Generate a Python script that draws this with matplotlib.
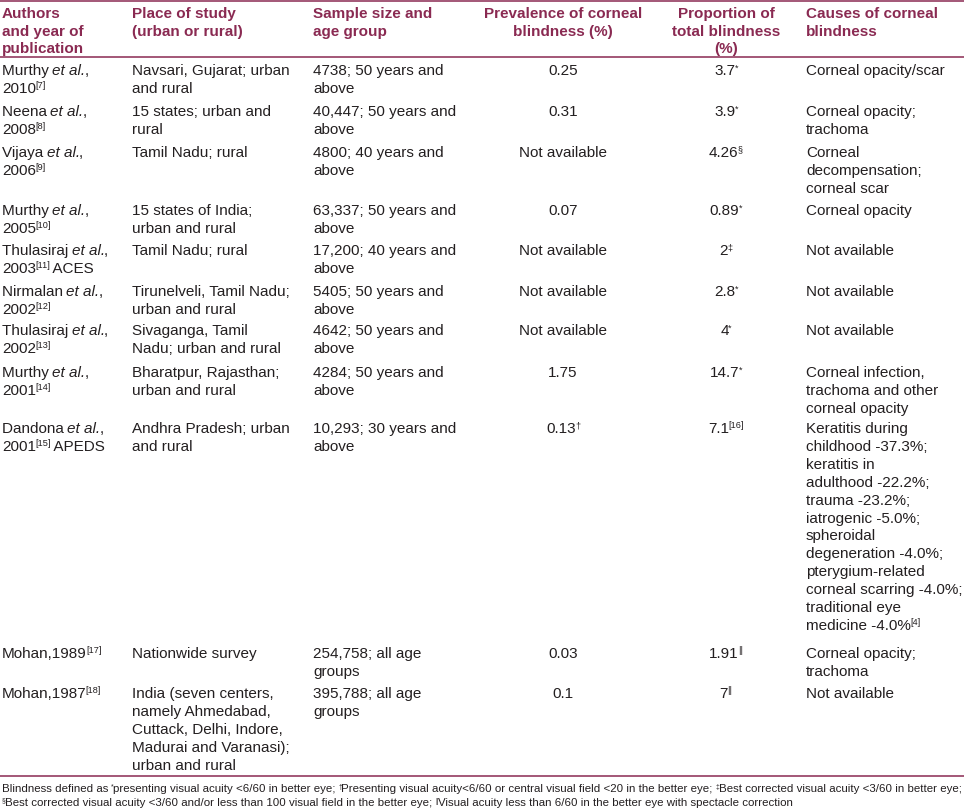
import re
import matplotlib
matplotlib.use("Agg")
import matplotlib.pyplot as plt
from matplotlib.font_manager import FontProperties

FONT = "Liberation Sans"
plt.rcParams["font.family"] = [FONT, "DejaVu Sans"]

# ---------------- data ----------------
headers = [
    "Authors\nand year of\npublication",
    "Place of study\n(urban or rural)",
    "Sample size and\nage group",
    "Prevalence of corneal\nblindness (%)",
    "Proportion of\ntotal blindness\n(%)",
    "Causes of corneal\nblindness",
]

authors = [
    "Murthy {i:et al.},\n2010{s:[7]}",
    "Neena {i:et al.},\n2008{s:[8]}",
    "Vijaya {i:et al.},\n2006{s:[9]}",
    "Murthy {i:et al.},\n2005{s:[10]}",
    "Thulasiraj {i:et al.},\n2003{s:[11]} ACES",
    "Nirmalan {i:et al.},\n2002{s:[12]}",
    "Thulasiraj {i:et al.},\n2002{s:[13]}",
    "Murthy {i:et al.},\n2001{s:[14]}",
    "Dandona {i:et al.},\n2001{s:[15]} APEDS",
    "Mohan,1989{s:[17]}",
    "Mohan,1987{s:[18]}",
]

places = [
    "Navsari, Gujarat; urban\nand rural",
    "15 states; urban and\nrural",
    "Tamil Nadu; rural",
    "15 states of India;\nurban and rural",
    "Tamil Nadu; rural",
    "Tirunelveli, Tamil Nadu;\nurban and rural",
    "Sivaganga, Tamil\nNadu; urban and rural",
    "Bharatpur, Rajasthan;\nurban and rural",
    "Andhra Pradesh; urban\nand rural",
    "Nationwide survey",
    "India (seven centers,\nnamely Ahmedabad,\nCuttack, Delhi, Indore,\nMadurai and Varanasi);\nurban and rural",
]

samples = [
    "4738; 50 years and\nabove",
    "40,447; 50 years and\nabove",
    "4800; 40 years and\nabove",
    "63,337; 50 years and\nabove",
    "17,200; 40 years and\nabove",
    "5405; 50 years and\nabove",
    "4642; 50 years and\nabove",
    "4284; 50 years and\nabove",
    "10,293; 30 years and\nabove",
    "254,758; all age\ngroups",
    "395,788; all age\ngroups",
]

prevalence = ["0.25", "0.31", "Not available", "0.07", "Not available",
              "Not available", "Not available", "1.75", "0.13{s:†}", "0.03", "0.1"]

proportion = ["3.7{s:*}", "3.9{s:*}", "4.26{s:§}", "0.89{s:*}", "2{s:‡}", "2.8{s:*}",
              "4{s:*}", "14.7{s:*}", "7.1{s:[16]}", "1.91{s:||}", "7{s:||}"]

causes = [
    "Corneal opacity/scar",
    "Corneal opacity;\ntrachoma",
    "Corneal\ndecompensation;\ncorneal scar",
    "Corneal opacity",
    "Not available",
    "Not available",
    "Not available",
    "Corneal infection,\ntrachoma and other\ncorneal opacity",
    "Keratitis during\nchildhood -37.3%;\nkeratitis in\nadulthood -22.2%;\ntrauma -23.2%;\n"
    "iatrogenic -5.0%;\nspheroidal\ndegeneration -4.0%;\npterygium-related\n"
    "corneal scarring -4.0%;\ntraditional eye\nmedicine -4.0%{s:[4]}",
    "Corneal opacity;\ntrachoma",
    "Not available",
]

footnotes = [
    "Blindness defined as {s:*}presenting visual acuity <6/60 in better eye; "
    "{s:†}Presenting visual acuity<6/60 or central visual field <20 in the better eye; "
    "{s:‡}Best corrected visual acuity <3/60 in better eye;",
    "{s:§}Best corrected visual acuity <3/60 and/or less than 100 visual field in the better eye; "
    "{s:||}Visual acuity less than 6/60 in the better eye with spectacle correction",
]

# ---------------- layout / style ----------------
W, H, DPI = 964, 811, 100
MAROON = "#8a2a52"
INK = "#231f20"
BODY_PX = 15.2
PT = 72.0 / DPI
SUP_SCALE = 0.6
SUP_RAISE = 0.30
GAP_EM = -0.05

col_anchor = [(2, "left"), (132, "left"), (313, "left"),
              (563, "center"), (726, "center"), (806, "left")]
header_base = 18
header_ls = 17.6
row_base = [75, 116, 157, 215, 255, 296, 335, 377, 433, 658, 698]
body_ls = 17.9
rule_y = [1, 57, 776]
foot_base = [792, 806]
foot_right = 957

fig = plt.figure(figsize=(W / DPI, H / DPI), dpi=DPI)
ax = fig.add_axes([0, 0, 1, 1])
ax.set_xlim(0, W)
ax.set_ylim(H, 0)
ax.axis("off")
renderer = fig.canvas.get_renderer()


def parse(markup):
    parts, pos = [], 0
    for m in re.finditer(r"\{([is]):(.*?)\}", markup):
        if m.start() > pos:
            parts.append(("n", markup[pos:m.start()]))
        parts.append((m.group(1), m.group(2)))
        pos = m.end()
    if pos < len(markup):
        parts.append(("n", markup[pos:]))
    return parts


def segments(markup, px, bold):
    out = []
    for kind, s in parse(markup):
        spx = px * SUP_SCALE if kind == "s" else px
        prop = FontProperties(family=FONT, size=spx * PT,
                              style="italic" if kind == "i" else "normal",
                              weight="bold" if bold else "normal")
        dy = -px * SUP_RAISE if kind == "s" else 0.0
        w, _, _ = renderer.get_text_width_height_descent(s, prop, ismath=False)
        out.append((s, prop, dy, w))
    return out


def layout(markup, px, bold=False):
    segs = segments(markup, px, bold)
    pos, cur = [], 0.0
    for i, (s, prop, dy, w) in enumerate(segs):
        if i > 0:
            cur += GAP_EM * px
        pos.append(cur)
        cur += w
    return segs, pos, cur


def put(x, y, markup, px, color, ha="left", bold=False):
    segs, pos, total = layout(markup, px, bold)
    x0 = x - total / 2 if ha == "center" else x
    for (s, prop, dy, w), p in zip(segs, pos):
        ax.text(x0 + p, y + dy, s, fontproperties=prop, color=color,
                ha="left", va="baseline")


# header
for (x, ha), txt in zip(col_anchor, headers):
    for k, line in enumerate(txt.split("\n")):
        put(x, header_base + k * header_ls, line, BODY_PX, MAROON, ha=ha, bold=True)

# body
columns = [authors, places, samples, prevalence, proportion, causes]
for (x, ha), col in zip(col_anchor, columns):
    for r, cell in enumerate(col):
        for k, line in enumerate(cell.split("\n")):
            put(x, row_base[r] + k * body_ls, line, BODY_PX, INK, ha=ha)

# rules
for y in rule_y:
    ax.plot([0, W], [y, y], color=MAROON, lw=1.1, solid_capstyle="butt")

# footnotes, fitted to width
_, _, fw = layout(footnotes[0], 10.0)
foot_px = 10.0 * (foot_right - 2) / fw
for k, line in enumerate(footnotes):
    put(2, foot_base[k], line, foot_px, INK)

fig.savefig("out.png", dpi=DPI, facecolor="white")
